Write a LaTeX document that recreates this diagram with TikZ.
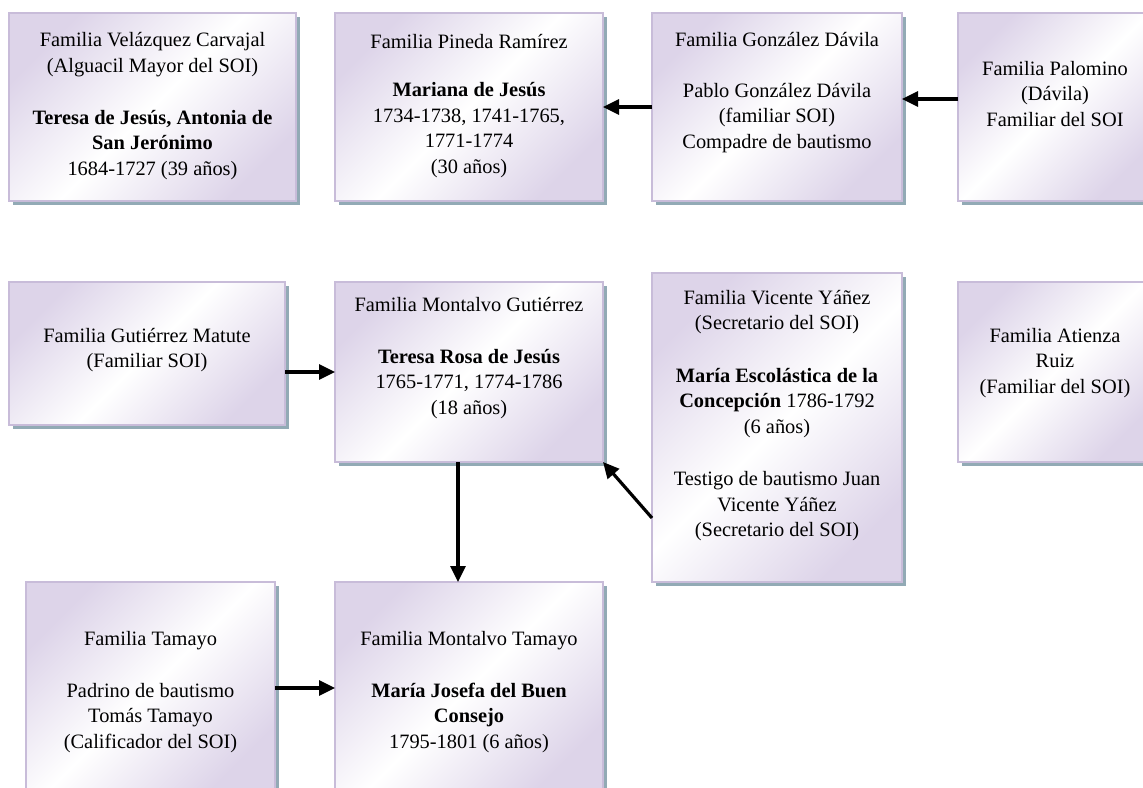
\documentclass[tikz,border=0pt]{standalone}
\usepackage{fontspec}
\setmainfont{Liberation Serif}
\usetikzlibrary{arrows.meta,shadows}
\definecolor{lav}{RGB}{221,212,233}
\definecolor{bordc}{RGB}{200,188,217}
\definecolor{shc}{RGB}{146,170,181}
\newcommand\fl{\rule{0pt}{19pt}}
\begin{document}
\begin{tikzpicture}[x=1pt,y=1pt,
  famcard/.style={draw=bordc, line width=2.8pt, rectangle, inner sep=0pt, outer sep=0pt,
     top color=lav, bottom color=lav, middle color=white, shading angle=45,
     drop shadow={fill=shc, opacity=1, shadow xshift=3.5pt, shadow yshift=-3.5pt}},
  cardtext/.style={anchor=north, align=center, inner sep=0pt, text=black,
     font=\fontsize{20.4}{25.5}\selectfont},
  arr/.style={line width=3.2pt, draw=black, -{Triangle[length=16pt,width=15pt]}}]
\useasboundingbox (0,0) rectangle (1143,-787);
\fill[white] (0,0) rectangle (1143,-787);
\clip (0,0) rectangle (1143,-787);

% boxes
\node[famcard, minimum width=287pt, minimum height=188pt] (vel) at (152.5,-107) {};
\node[famcard, minimum width=268pt, minimum height=188pt] (pin) at (469,-107) {};
\node[famcard, minimum width=250pt, minimum height=188pt] (gon) at (777,-107) {};
\node[famcard, minimum width=194pt, minimum height=188pt] (pal) at (1055,-107) {};
\node[famcard, minimum width=276pt, minimum height=143pt] (gm) at (147,-353.5) {};
\node[famcard, minimum width=268pt, minimum height=180pt] (mg) at (469,-372) {};
\node[famcard, minimum width=250pt, minimum height=309pt] (vic) at (777,-427.5) {};
\node[famcard, minimum width=194pt, minimum height=180pt] (ati) at (1055,-372) {};
\node[famcard, minimum width=249pt, minimum height=212pt] (tam) at (150.5,-688) {};
\node[famcard, minimum width=268pt, minimum height=212pt] (mt) at (469,-688) {};

% texts
\node[cardtext] (velt) at (152.5,-27.5) {\fl Familia Velázquez Carvajal\\(Alguacil Mayor del SOI)\\[26.5pt]\textbf{Teresa de Jesús, Antonia de}\\\textbf{San Jerónimo}\\1684-1727 (39 años)};
\node[cardtext] (pint) at (469,-29.5) {\fl Familia Pineda Ramírez\\[22.5pt]\textbf{Mariana de Jesús}\\1734-1738, 1741-1765,\\1771-1774\\(30 años)};
\node[cardtext] (gont) at (777,-27) {\fl Familia González Dávila\\[25.5pt]Pablo González Dávila\\(familiar SOI)\\Compadre de bautismo};
\node[cardtext] (palt) at (1055,-56) {\fl Familia Palomino\\(Dávila)\\Familiar del SOI};
\node[cardtext] (gmt) at (147,-323) {\fl Familia Gutiérrez Matute\\(Familiar SOI)};
\node[cardtext] (mgt) at (469,-292) {\fl Familia Montalvo Gutiérrez\\[26.5pt]\textbf{Teresa Rosa de Jesús}\\1765-1771, 1774-1786\\(18 años)};
\node[cardtext] (vict) at (777,-285) {\fl Familia Vicente Yáñez\\(Secretario del SOI)\\[27pt]\textbf{María Escolástica de la}\\\textbf{Concepción} 1786-1792\\(6 años)\\[27pt]Testigo de bautismo Juan\\Vicente Yáñez\\(Secretario del SOI)};
\node[cardtext] (atit) at (1055,-323) {\fl Familia Atienza\\Ruiz\\(Familiar del SOI)};
\node[cardtext] (tamt) at (150.5,-626) {\fl Familia Tamayo\\[26.5pt]Padrino de bautismo\\Tomás Tamayo\\(Calificador del SOI)};
\node[cardtext] (mtt) at (469,-626) {\fl Familia Montalvo Tamayo\\[26.5pt]\textbf{María Josefa del Buen}\\\textbf{Consejo}\\1795-1801 (6 años)};

% connectors
\draw[arr] (gon.west) -- (pin.east);
\draw[arr] ([yshift=8pt]pal.west) -- ([yshift=8pt]gon.east);
\draw[arr] (gm.east |- mg.west) -- (mg.west);
\draw[arr] ([xshift=-11pt]mg.south) -- ([xshift=-11pt]mt.north);
\draw[arr] ([yshift=-90.5pt]vic.west) -- (mg.south east);
\draw[arr] (tam.east) -- (mt.west);
\end{tikzpicture}
\end{document}
